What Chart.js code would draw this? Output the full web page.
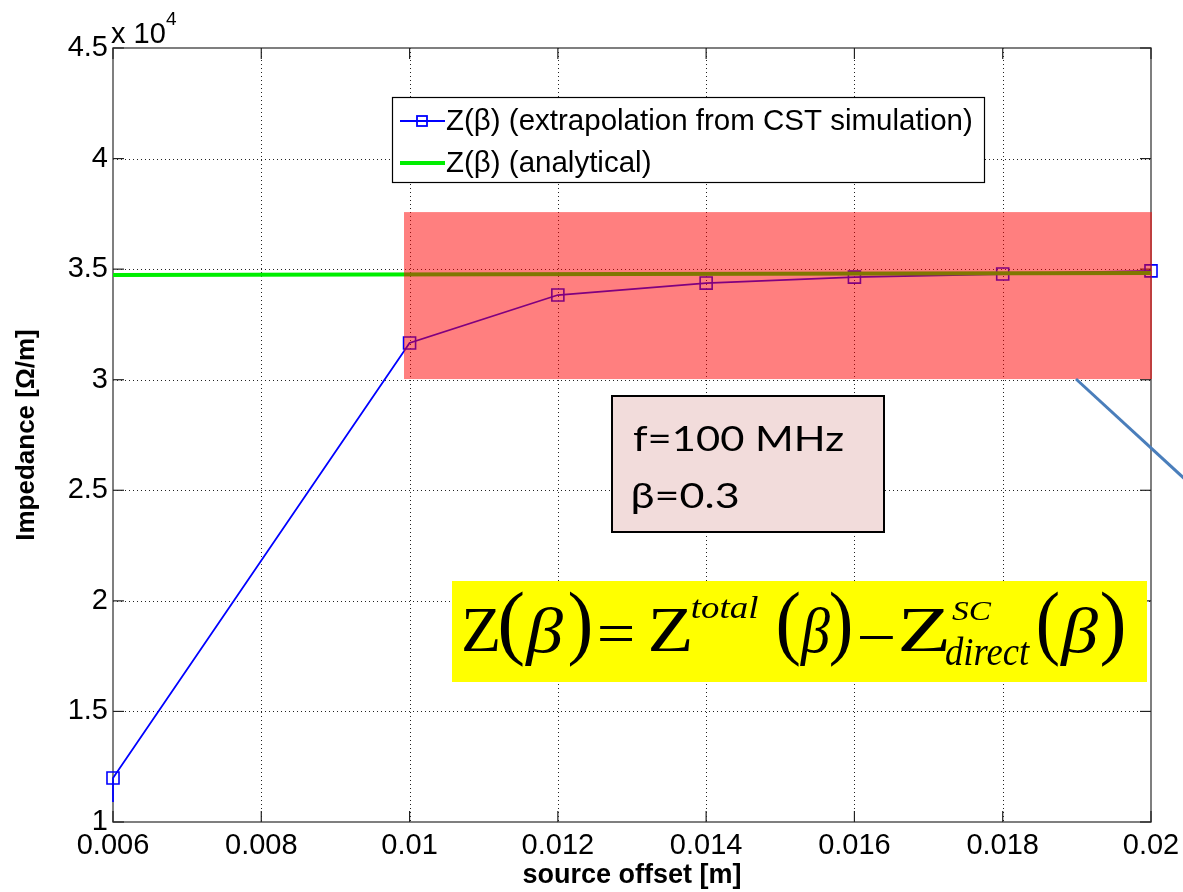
<!DOCTYPE html>
<html>
<head>
<meta charset="utf-8">
<script src="https://cdn.jsdelivr.net/npm/chart.js@4"></script>
<style>
  html, body { margin: 0; padding: 0; background: #fff; }
  #wrap { width: 1183px; height: 892px; }
</style>
</head>
<body>
<div id="wrap"><canvas id="Chart" width="1183" height="892"></canvas></div>
<script>
// values (impedance in Ohm/m, offset in m)
const offsets = [0.006, 0.006, 0.01, 0.012, 0.014, 0.016, 0.018, 0.02];
const zExtrapolated = [10900, 11990, 31660, 33830, 34370, 34640, 34780, 34920];
const markerShown = [false, true, true, true, true, true, true, true];
const analyticalOffsets = [0.006, 0.02];
const zAnalytical = [34740, 34830];

const seriesLabels = ["Z(\u03B2) (extrapolation from CST simulation)", "Z(\u03B2) (analytical)"];

const xTicks = [0.006, 0.008, 0.01, 0.012, 0.014, 0.016, 0.018, 0.02];
const xTickLabels = ["0.006", "0.008", "0.01", "0.012", "0.014", "0.016", "0.018", "0.02"];
const yTicks = [10000, 15000, 20000, 25000, 30000, 35000, 40000, 45000];
const yTickLabels = ["1", "1.5", "2", "2.5", "3", "3.5", "4", "4.5"];

// highlighted band, in data units
const bandX = [0.009925, 0.02];
const bandY = [30030, 37580];

const infoLines = ["f=100 MHz", "\u03B2=0.3"];

Chart.defaults.font.family = "'Liberation Sans', Arial, sans-serif";
Chart.defaults.color = "#000";

const BLUE = "#0000ff";
const GREEN = "#00ee00";

// draw text stretched into a box (glyph bounding box)
function fitGlyph(ctx, txt, font, left, right, top, bottom) {
  ctx.font = font;
  ctx.textAlign = "left";
  ctx.textBaseline = "alphabetic";
  const m = ctx.measureText(txt);
  const w = m.actualBoundingBoxLeft + m.actualBoundingBoxRight;
  const h = m.actualBoundingBoxAscent + m.actualBoundingBoxDescent;
  const sx = (right - left) / w;
  const sy = (bottom - top) / h;
  ctx.save();
  ctx.translate(left + m.actualBoundingBoxLeft * sx, top + m.actualBoundingBoxAscent * sy);
  ctx.scale(sx, sy);
  ctx.fillText(txt, 0, 0);
  ctx.restore();
}

// only stretch horizontally, keep font height
function fitWidth(ctx, txt, font, left, right, baseline) {
  ctx.font = font;
  ctx.textAlign = "left";
  ctx.textBaseline = "alphabetic";
  const m = ctx.measureText(txt);
  const w = m.actualBoundingBoxLeft + m.actualBoundingBoxRight;
  const sx = (right - left) / w;
  ctx.save();
  ctx.translate(left + m.actualBoundingBoxLeft * sx, baseline);
  ctx.scale(sx, 1);
  ctx.fillText(txt, 0, 0);
  ctx.restore();
}

function seg(ctx, x1, y1, x2, y2) {
  ctx.beginPath();
  ctx.moveTo(x1, y1);
  ctx.lineTo(x2, y2);
  ctx.stroke();
}

const overlay = {
  id: "overlay",
  beforeDatasetsDraw(chart) {
    const { ctx, chartArea: a, scales: { x, y } } = chart;
    ctx.save();
    // dotted grid
    ctx.strokeStyle = "#222";
    ctx.lineWidth = 1;
    ctx.setLineDash([1, 3]);
    xTicks.forEach((v) => {
      const px = Math.round(x.getPixelForValue(v)) + 0.5;
      if (px < a.left + 3 || px > a.right - 3) return;
      seg(ctx, px, a.top, px, a.bottom);
    });
    yTicks.forEach((v) => {
      const py = Math.round(y.getPixelForValue(v)) + 0.5;
      if (py < a.top + 3 || py > a.bottom - 3) return;
      seg(ctx, a.left, py, a.right, py);
    });
    ctx.setLineDash([]);
    // frame + inward ticks
    ctx.strokeStyle = "#555";
    ctx.lineWidth = 1.5;
    ctx.strokeRect(a.left, a.top, a.right - a.left, a.bottom - a.top);
    ctx.strokeStyle = "#222";
    ctx.lineWidth = 1.2;
    const tl = 11;
    xTicks.forEach((v) => {
      const px = x.getPixelForValue(v);
      seg(ctx, px, a.bottom, px, a.bottom - tl);
      seg(ctx, px, a.top, px, a.top + tl);
    });
    yTicks.forEach((v) => {
      const py = y.getPixelForValue(v);
      seg(ctx, a.left, py, a.left + tl, py);
      seg(ctx, a.right, py, a.right - tl, py);
    });
    // exponent label
    ctx.fillStyle = "#000";
    ctx.textAlign = "left";
    ctx.textBaseline = "alphabetic";
    ctx.font = "29px 'Liberation Sans', Arial, sans-serif";
    ctx.fillText("x 10", a.left - 2, a.top - 5);
    ctx.font = "19px 'Liberation Sans', Arial, sans-serif";
    ctx.fillText("4", a.left + 53, a.top - 23);
    ctx.restore();
  },
  afterDatasetsDraw(chart) {
    const { ctx, chartArea: a, scales: { x, y } } = chart;
    ctx.save();

    // red translucent band
    ctx.save();
    ctx.beginPath();
    ctx.rect(a.left, a.top - 1, a.right - a.left + 1.5, a.bottom - a.top + 2);
    ctx.clip();
    const bx1 = x.getPixelForValue(bandX[0]);
    const bx2 = x.getPixelForValue(bandX[1]) + 1;
    const by1 = y.getPixelForValue(bandY[1]);
    const by2 = y.getPixelForValue(bandY[0]);
    ctx.fillStyle = "rgba(255,0,0,0.5)";
    ctx.fillRect(bx1, by1, bx2 - bx1, by2 - by1);
    ctx.restore();

    // legend
    ctx.fillStyle = "#fff";
    ctx.fillRect(392, 97, 593, 86);
    ctx.strokeStyle = "#000";
    ctx.lineWidth = 1.2;
    ctx.strokeRect(392.5, 97.5, 592, 85);
    ctx.strokeStyle = BLUE;
    ctx.lineWidth = 1.8;
    seg(ctx, 400, 121, 445, 121);
    ctx.strokeRect(417, 116, 10, 10);
    ctx.strokeStyle = GREEN;
    ctx.lineWidth = 4;
    seg(ctx, 400, 163, 445, 163);
    ctx.fillStyle = "#000";
    ctx.font = "29.5px 'Liberation Sans', Arial, sans-serif";
    ctx.textAlign = "left";
    ctx.textBaseline = "middle";
    ctx.fillText(seriesLabels[0], 446, 122);
    ctx.fillText(seriesLabels[1], 446, 164);

    // parameter box
    ctx.fillStyle = "#F2DCDB";
    ctx.fillRect(612, 396, 272, 136);
    ctx.strokeStyle = "#000";
    ctx.lineWidth = 2;
    ctx.strokeRect(612, 396, 272, 136);
    ctx.fillStyle = "#000";
    fitWidth(ctx, infoLines[0], "35px Lato, 'Open Sans', sans-serif", 633, 843, 451);
    fitWidth(ctx, infoLines[1], "35px Lato, 'Open Sans', sans-serif", 633, 738, 508);

    // formula box
    ctx.fillStyle = "#ffff00";
    ctx.fillRect(452, 581, 695, 101);
    ctx.fillStyle = "#000";
    const up = "62px 'Liberation Serif', 'Times New Roman', serif";
    const it = "italic 62px 'Liberation Serif', 'Times New Roman', serif";
    const sIt = "italic 30px 'Liberation Serif', 'Times New Roman', serif";
    fitGlyph(ctx, "Z", up, 463, 498, 610, 651);
    fitGlyph(ctx, "(", up, 500, 523, 592, 668);
    fitGlyph(ctx, "\u03B2", it, 525, 563, 608, 665);
    fitGlyph(ctx, ")", up, 570, 590, 592, 668);
    fitGlyph(ctx, "=", up, 600, 632, 627, 642);
    fitGlyph(ctx, "Z", up, 650, 690, 610, 651);
    fitGlyph(ctx, "total", sIt, 692, 758, 597, 618);
    fitGlyph(ctx, "(", up, 778, 799, 592, 668);
    fitGlyph(ctx, "\u03B2", it, 800, 830, 608, 665);
    fitGlyph(ctx, ")", up, 831, 850, 592, 668);
    fitGlyph(ctx, "\u2212", up, 860, 893, 635, 639);
    fitGlyph(ctx, "Z", up, 900, 947, 610, 651);
    fitGlyph(ctx, "SC", sIt, 952, 992, 603, 620);
    fitGlyph(ctx, "direct", sIt, 945, 1030, 638, 665);
    fitGlyph(ctx, "(", up, 1038, 1058, 592, 668);
    fitGlyph(ctx, "\u03B2", it, 1060, 1098, 608, 665);
    fitGlyph(ctx, ")", up, 1102, 1123, 592, 668);

    // pointer line
    ctx.strokeStyle = "#4A7EBB";
    ctx.lineWidth = 3;
    seg(ctx, 1076, 379, 1200, 493);

    ctx.restore();
  },
};

const ctx = document.getElementById("Chart");
const chart = new Chart(ctx, {
  type: "line",
  data: {
    datasets: [
      {
        label: seriesLabels[0],
        data: offsets.map((o, i) => ({ x: o, y: zExtrapolated[i] })),
        borderColor: BLUE,
        borderWidth: 1.8,
        pointStyle: "rect",
        pointRadius: markerShown.map((s) => (s ? 8.5 : 0)),
        pointHoverRadius: 0,
        pointBorderColor: BLUE,
        pointBorderWidth: 1.6,
        pointBackgroundColor: "rgba(0,0,0,0)",
        tension: 0,
        fill: false,
        clip: false,
        order: 2,
      },
      {
        label: seriesLabels[1],
        data: analyticalOffsets.map((o, i) => ({ x: o, y: zAnalytical[i] })),
        borderColor: GREEN,
        borderWidth: 4,
        pointRadius: 0,
        tension: 0,
        fill: false,
        order: 1,
      },
    ],
  },
  options: {
    responsive: false,
    devicePixelRatio: 1,
    animation: false,
    events: [],
    layout: { padding: { top: 48, right: 32, left: 0, bottom: 0 } },
    scales: {
      x: {
        type: "linear",
        min: 0.006,
        max: 0.02,
        afterBuildTicks: (s) => { s.ticks = xTicks.map((v) => ({ value: v })); },
        afterFit: (s) => { s.height = 70; s.paddingLeft = 0; s.paddingRight = 0; },
        grid: { display: false, drawTicks: false },
        border: { display: false },
        ticks: {
          autoSkip: false,
          maxRotation: 0,
          padding: 7,
          font: { size: 29 },
          color: "#000",
          callback: (v, i) => xTickLabels[i],
        },
        title: {
          display: true,
          text: "source offset [m]",
          font: { size: 27, weight: "bold" },
          padding: { top: 0, bottom: 0 },
          color: "#000",
        },
      },
      y: {
        type: "linear",
        min: 10000,
        max: 45000,
        afterBuildTicks: (s) => { s.ticks = yTicks.map((v) => ({ value: v })); },
        afterFit: (s) => { s.width = 113; s.paddingTop = 0; s.paddingBottom = 0; },
        grid: { display: false, drawTicks: false },
        border: { display: false },
        ticks: {
          autoSkip: false,
          padding: 5,
          font: { size: 29 },
          color: "#000",
          callback: (v, i) => yTickLabels[i],
        },
        title: {
          display: true,
          text: "Impedance [\u03A9/m]",
          font: { size: 26, weight: "bold" },
          padding: { top: 11, bottom: 0 },
          color: "#000",
        },
      },
    },
    plugins: {
      legend: { display: false },
      tooltip: { enabled: false },
    },
  },
  plugins: [overlay],
});
</script>
</body>
</html>
